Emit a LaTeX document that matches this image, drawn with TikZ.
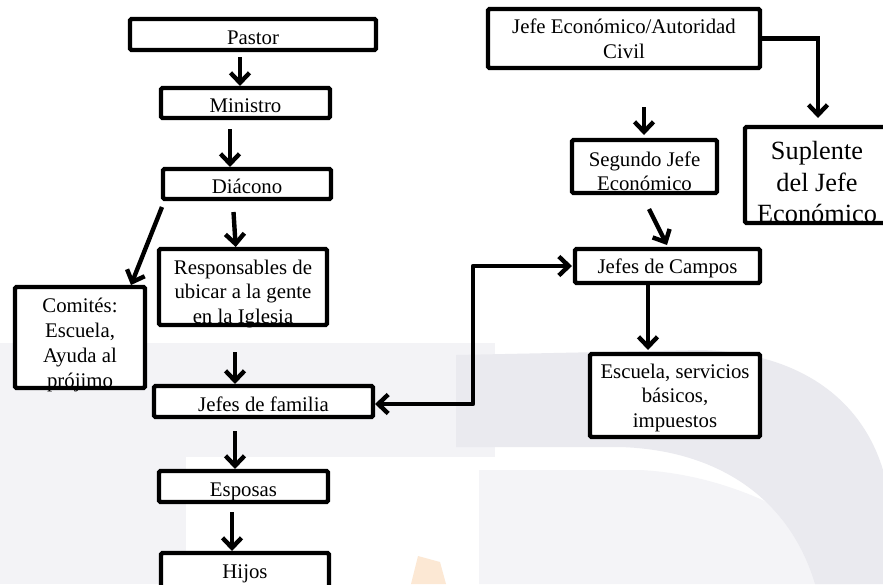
\documentclass[tikz,border=0pt]{standalone}
\usepackage{fontspec}
\setmainfont{Liberation Serif}
\usetikzlibrary{arrows.meta}
\definecolor{wmA}{RGB}{234,234,239}
\definecolor{wmL}{RGB}{243,243,246}
\definecolor{wmB}{RGB}{244,244,247}
\definecolor{wmO}{RGB}{252,232,212}
\begin{document}
\begin{tikzpicture}[x=1pt,y=-1pt,
  box/.style={draw, line width=4.4pt, rounded corners=1.5pt, inner sep=0pt, outer sep=0pt, fill=white},
  lbl/.style={inner sep=0pt, anchor=base, font=\fontsize{20.8}{24.8}\selectfont},
  big/.style={inner sep=0pt, anchor=base, font=\fontsize{26.3}{31.5}\selectfont},
  tipv/.tip={Straight Barb[length=10pt,width=19pt]},
  arr/.style={line width=4.4pt, -tipv},
  arrtwo/.style={line width=4.4pt, tipv-tipv},
]
\path[use as bounding box, fill=white] (0,0) rectangle (883,584);

% faint watermark
\fill[wmL] (0,343) rectangle (495,457);
\fill[wmL] (0,457) rectangle (186,584);
\fill[wmB] (479,470) -- (640,470) .. controls (740,475) and (840,530) .. (860,584) -- (479,584) -- cycle;
\fill[wmA] (456,355) -- (700,350) .. controls (800,352) and (862,400) .. (883,470) -- (883,584) -- (815,584) .. controls (790,500) and (720,450) .. (620,447) -- (456,447) -- cycle;
\fill[wmO] (418,556) -- (440,562) -- (446,584) -- (411,584) -- cycle;

% boxes (centre, width, height measured at line centres)
\node[box, minimum width=246pt, minimum height=31pt] (P) at (253,34.5) {};
\node[box, minimum width=169pt, minimum height=30pt] (M) at (245.5,103) {};
\node[box, minimum width=168pt, minimum height=30pt] (D) at (247,184) {};
\node[box, minimum width=168pt, minimum height=76pt] (R) at (243,287) {};
\node[box, minimum width=130pt, minimum height=101pt] (C) at (80,337.5) {};
\node[box, minimum width=219pt, minimum height=31pt] (JF) at (263.5,401.5) {};
\node[box, minimum width=169pt, minimum height=31pt] (E) at (243.5,486.5) {};
\node[box, minimum width=168pt, minimum height=47pt] (H) at (245,576.5) {};
\node[box, minimum width=272pt, minimum height=59pt] (JE) at (624,38.5) {};
\node[box, minimum width=144pt, minimum height=96pt] (S) at (817,175) {};
\node[box, minimum width=145pt, minimum height=53pt] (SG) at (644.5,166.5) {};
\node[box, minimum width=185pt, minimum height=34pt] (JC) at (667.5,266) {};
\node[box, minimum width=170pt, minimum height=83pt] (ES) at (675,395.5) {};

% texts
\node[lbl] (Pt) at (253,44) {Pastor};
\node[lbl] (Mt) at (245.5,112) {Ministro};
\node[lbl] (Dt) at (247,193) {Diácono};
\node[lbl] (Rt1) at (243,274) {Responsables de};
\node[lbl] (Rt2) at (243,298.5) {ubicar a la gente};
\node[lbl] (Rt3) at (243,323) {en la Iglesia};
\node[lbl] (Ct1) at (80,312) {Comités:};
\node[lbl] (Ct2) at (80,337) {Escuela,};
\node[lbl] (Ct3) at (80,362) {Ayuda al};
\node[lbl] (Ct4) at (80,387) {prójimo};
\node[lbl] (JFt) at (263.5,411) {Jefes de familia};
\node[lbl] (Et) at (243.5,496) {Esposas};
\node[lbl] (Ht) at (245,578) {Hijos};
\node[lbl] (JEt1) at (624,33) {Jefe Económico/Autoridad};
\node[lbl] (JEt2) at (624,58) {Civil};
\node[big] (St1) at (817,159) {Suplente};
\node[big] (St2) at (817,191) {del Jefe};
\node[big] (St3) at (817,222) {Económico};
\node[lbl] (SGt1) at (644.5,166) {Segundo Jefe};
\node[lbl] (SGt2) at (644.5,190) {Económico};
\node[lbl] (JCt) at (667.5,273) {Jefes de Campos};
\node[lbl] (ESt1) at (675,378) {Escuela, servicios};
\node[lbl] (ESt2) at (675,402) {básicos,};
\node[lbl] (ESt3) at (675,427) {impuestos};

% connectors
\draw[arr] ([xshift=-13pt,yshift=-7pt]P.south) -- ([xshift=-5.5pt,yshift=2pt]M.north);
\draw[arr] ([xshift=-15.5pt,yshift=-11pt]M.south) -- ([xshift=-17pt,yshift=2pt]D.north);
\draw[arr] ([xshift=-13.5pt,yshift=-13pt]D.south) -- ([xshift=-7.3pt,yshift=2pt]R.north);
\draw[arr] ([xshift=-1pt,yshift=-8pt]D.south west) -- ([xshift=51pt,yshift=2pt]C.north);
\draw[arr] ([xshift=-8pt,yshift=-27pt]R.south) -- ([xshift=-28.5pt,yshift=2pt]JF.north);
\draw[arr] ([xshift=-28.5pt,yshift=-14pt]JF.south) -- ([xshift=-8.5pt,yshift=2pt]E.north);
\draw[arr] ([xshift=-11.5pt,yshift=-10pt]E.south) -- ([xshift=-13pt,yshift=2pt]H.north);
\draw[arr] (JE.east) -| ([xshift=1pt,yshift=9pt]S.north);
\draw[arr] ([xshift=20pt,yshift=-39pt]JE.south) -- ([xshift=-0.5pt,yshift=5pt]SG.north);
\draw[arr] ([xshift=4.5pt,yshift=-16pt]SG.south) -- ([xshift=-0.5pt,yshift=4pt]JC.north);
\coordinate (jfE) at ([xshift=2pt,yshift=-2.5pt]JF.east);
\coordinate (jcW) at ([xshift=-3pt]JC.west);
\coordinate (bend) at (473,0);
\draw[arrtwo, line join=round] (jfE) -| (bend |- jcW) -- (jcW);
\draw[arr] ([xshift=-19.5pt]JC.south) -- ([xshift=-27pt,yshift=4pt]ES.north);
\end{tikzpicture}
\end{document}
